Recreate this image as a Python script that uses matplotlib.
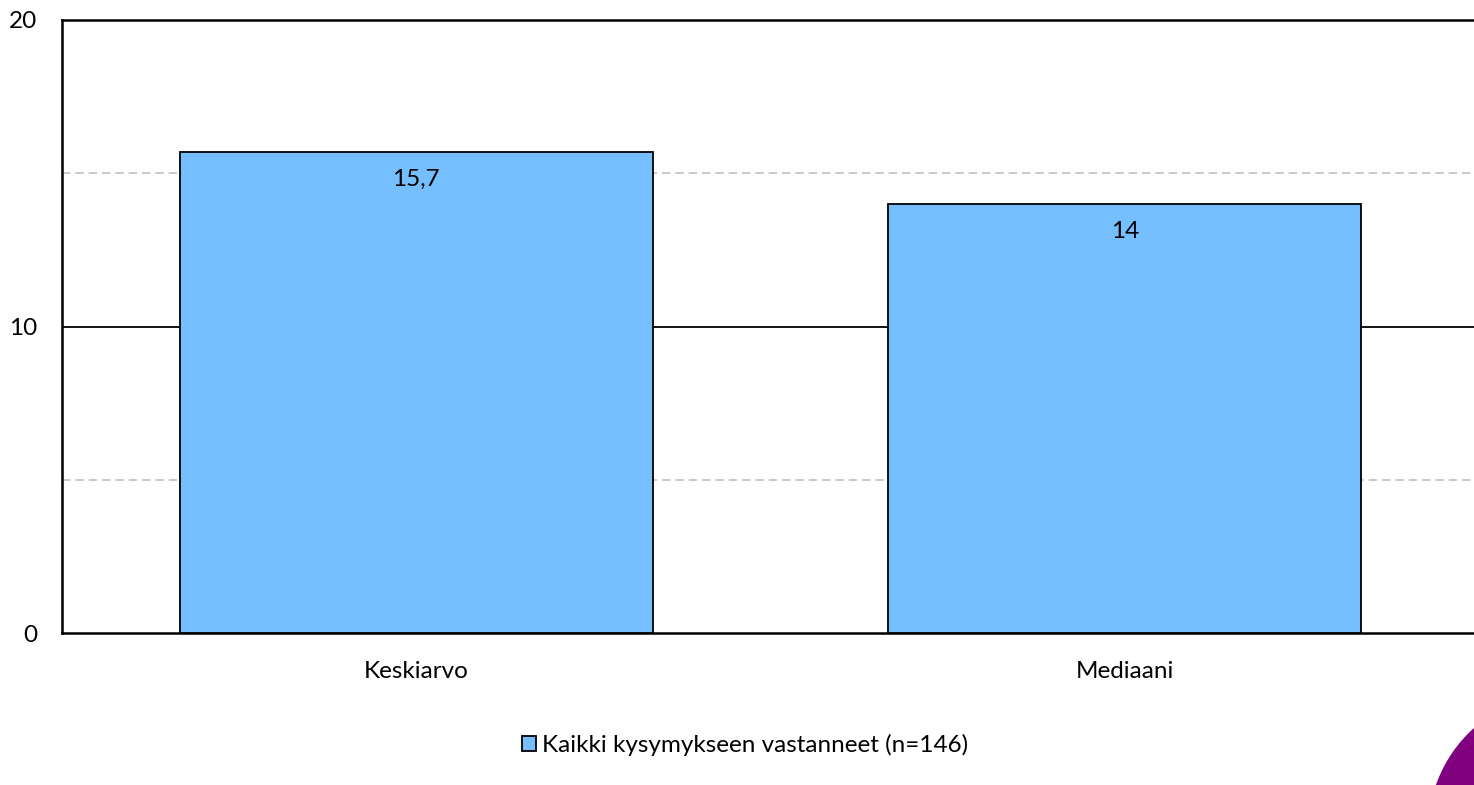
import matplotlib
matplotlib.use("Agg")
import matplotlib.pyplot as plt
from matplotlib.patches import Wedge

categories = ["Keskiarvo", "Mediaani"]
values = [15.7, 14]
value_labels = ["15,7", "14"]
series_name = "Kaikki kysymykseen vastanneet (n=146)"
yticks = [0, 10, 20]

plt.rcParams['font.family'] = ['Lato', 'DejaVu Sans']
W, H = 1474, 785
FS = 17.5
fig = plt.figure(figsize=(W/100, H/100), dpi=100)
ax = fig.add_axes([62/W, (785-633)/H, (1479-62)/W, (633-20)/H])

bar_color = "#75BEFF"
x = list(range(len(categories)))
bars = ax.bar(x, values, width=0.667, color=bar_color, edgecolor="black", linewidth=1.3, zorder=3,
              label=series_name)

ax.set_xlim(-0.5, 1.5)
ax.set_ylim(0, 20)
for y in [5, 15]:
    ax.axhline(y, color="#c0c0c0", linestyle=(0, (5, 3)), linewidth=1.2, zorder=1)
ax.axhline(10, color="black", linewidth=1.3, zorder=1)

for xi, v, lab in zip(x, values, value_labels):
    ax.annotate(lab, (xi, v), xytext=(0, -28), textcoords="offset pixels",
                ha="center", va="center", fontsize=FS, color="black", zorder=4)

ax.set_xticks(x)
ax.set_xticklabels(categories, fontsize=FS)
ax.set_yticks(yticks)
ax.set_yticklabels([str(t) for t in yticks], fontsize=FS)
ax.tick_params(axis="both", length=0)
ax.tick_params(axis="y", pad=18)
ax.tick_params(axis="x", pad=20)
for s in ["left", "top", "bottom"]:
    ax.spines[s].set_linewidth(1.8)
    ax.spines[s].set_color("black")
ax.spines["right"].set_visible(False)

leg = fig.legend(handles=[bars], labels=[series_name], loc="center", bbox_to_anchor=(745/W, 1-745/H),
                 frameon=False, fontsize=FS, handlelength=0.6, handleheight=0.6, handletextpad=0.25)

# partial logo in the bottom-right corner
logo = Wedge((1565, -45), 136, 90, 200, width=36, transform=None, color="#800080")
fig.patches.append(logo)

fig.savefig("out.png", dpi=100)
